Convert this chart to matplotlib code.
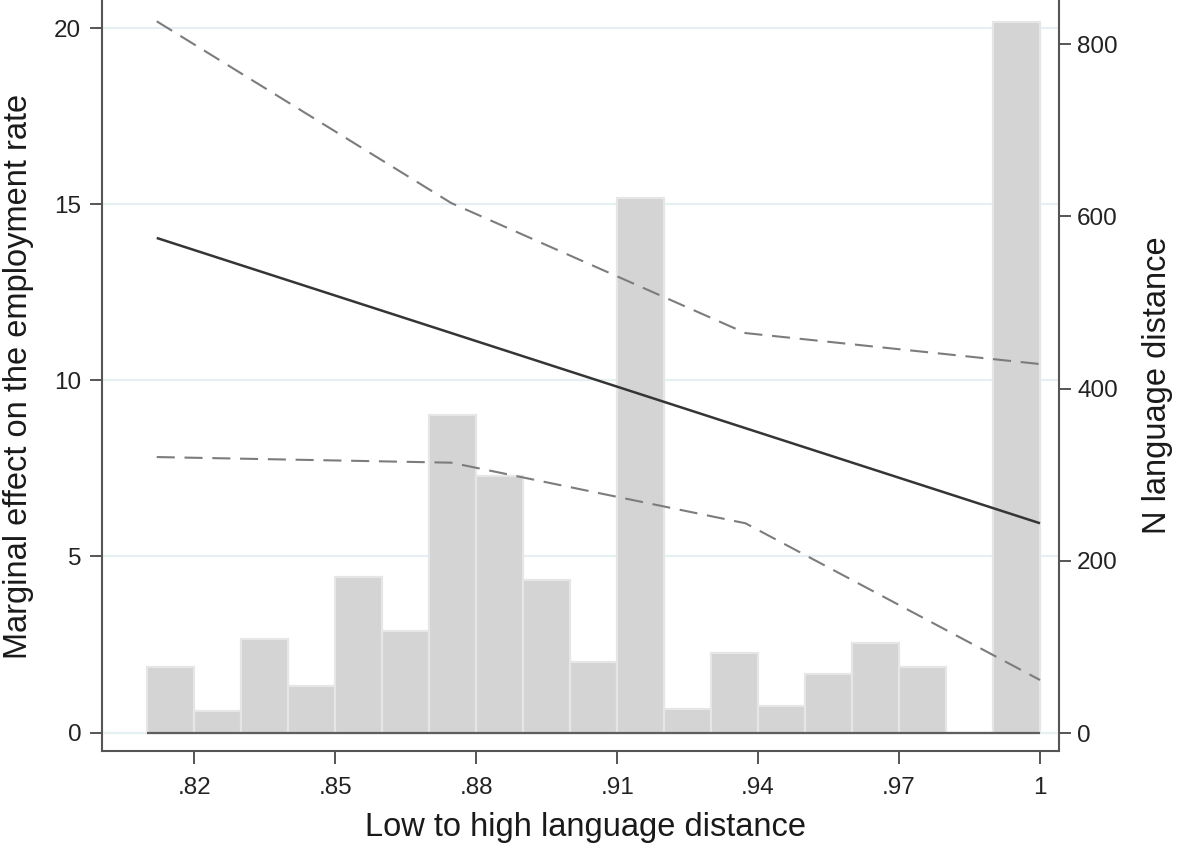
import matplotlib
matplotlib.use("Agg")
import matplotlib.pyplot as plt
import numpy as np

# ---------------- data ----------------
bin_start = 0.81
bin_width = 0.01
bin_counts = [77, 26, 109, 55, 181, 119, 369, 298, 178, 82,
              621, 28, 93, 31, 69, 105, 77, 0, 826]

x_points = [0.812, 0.8747, 0.9373, 1.0]
effect = [14.04, 11.34, 8.64, 5.94]
upper_ci = [20.19, 15.03, 11.34, 10.46]
lower_ci = [7.82, 7.66, 5.94, 1.49]

x_ticks = [0.82, 0.85, 0.88, 0.91, 0.94, 0.97, 1.00]
x_ticklabels = [".82", ".85", ".88", ".91", ".94", ".97", "1"]
left_ticks = [0, 5, 10, 15, 20]
right_ticks = [0, 200, 400, 600, 800]

x_label = "Low to high language distance"
left_label = "Marginal effect on the employment rate"
right_label = "N language distance"

# ---------------- style ----------------
plt.rcParams['font.family'] = ['Liberation Sans', 'DejaVu Sans']
plt.rcParams['lines.scale_dashes'] = False

fig = plt.figure(figsize=(11.79, 8.46), dpi=100)
ax = fig.add_axes([102 / 1179, 1 - 751 / 846, (1059 - 102) / 1179, 751 / 846])
ax2 = ax.twinx()

spine_col = "#555555"
tick_fs = 17.5
label_fs = 23.5

# bin edges derived from data
n_bins = len(bin_counts)
edges = bin_start + bin_width * np.arange(n_bins + 1)
lefts = edges[:-1]

# bars on right axis
ax2.bar(lefts, bin_counts, width=bin_width, align='edge',
        color="#d4d4d4", edgecolor="#e6e6e6", linewidth=1.6, zorder=2)
ax2.hlines(0, edges[0], edges[-1], color="#5e5e5e", linewidth=1.6, zorder=3)

# lines (left-axis units) drawn on top layer using left-axis transform
ax2.plot(x_points, effect, color="#353535", linewidth=1.8,
         transform=ax.transData, zorder=5, solid_capstyle='butt')
ax2.plot(x_points, upper_ci, color="#7c7c7c", linewidth=1.5,
         dashes=(13, 7), transform=ax.transData, zorder=5)
ax2.plot(x_points, lower_ci, color="#7c7c7c", linewidth=1.5,
         dashes=(13, 7), transform=ax.transData, zorder=5)

# limits
ax.set_xlim(0.80035, 1.00404)
ax.set_ylim(-0.525, 20.795)
ax2.set_ylim(-20.9, 851.1)
ax2.set_xlim(ax.get_xlim())

# grid (left axis, behind everything)
ax.set_axisbelow(True)
ax.yaxis.grid(True, color="#e6f0f2", linewidth=1.6)
ax.xaxis.grid(False)

# ticks
ax.set_xticks(x_ticks)
ax.set_xticklabels(x_ticklabels)
ax.set_yticks(left_ticks)
ax.set_yticklabels([str(t) for t in left_ticks])
ax2.set_yticks(right_ticks)
ax2.set_yticklabels([str(t) for t in right_ticks])

ax.tick_params(axis='x', direction='out', length=9, width=1.4, color=spine_col,
               labelsize=tick_fs, labelcolor="#222222", pad=9.5)
ax.tick_params(axis='y', direction='out', length=8.5, width=1.4, color=spine_col,
               labelsize=tick_fs, labelcolor="#222222", pad=6.5)
ax2.tick_params(axis='y', direction='out', length=8.5, width=1.4, color=spine_col,
                labelsize=tick_fs, labelcolor="#222222", pad=4.5)

# spines
for a in (ax, ax2):
    a.spines['top'].set_visible(False)
    for s in ('left', 'right', 'bottom'):
        a.spines[s].set_color(spine_col)
        a.spines[s].set_linewidth(1.5)
ax.spines['right'].set_visible(False)
ax2.spines['left'].set_visible(False)
ax2.spines['bottom'].set_visible(False)

# labels
ax.set_xlabel(x_label, fontsize=label_fs, color="#1a1a1a")
ax.xaxis.set_label_coords(0.505, -0.081)
ax.set_ylabel(left_label, fontsize=label_fs, color="#1a1a1a")
ax.yaxis.set_label_coords(-0.071, 0.499)
ax2.set_ylabel(right_label, fontsize=label_fs, color="#1a1a1a")
ax2.yaxis.set_label_coords(1.087, 0.487)

fig.savefig("out.png", dpi=100, facecolor="white")
